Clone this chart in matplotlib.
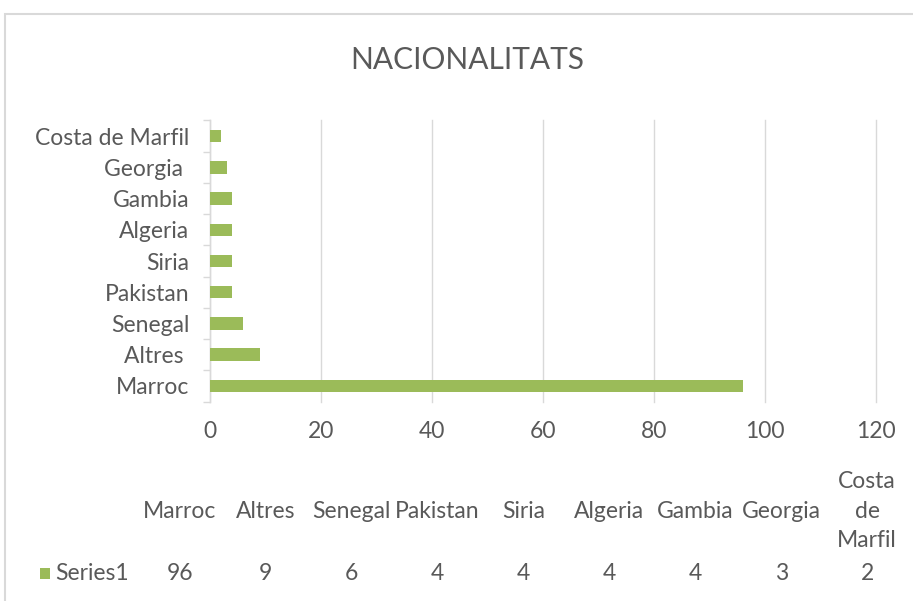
import textwrap
import matplotlib
matplotlib.use('Agg')
import matplotlib.pyplot as plt
from matplotlib.patches import Rectangle

# Datos
paisos = ['Marroc', 'Altres ', 'Senegal', 'Pakistan', 'Siria', 'Algeria', 'Gambia', 'Georgia ', 'Costa de Marfil']
valors = [96, 9, 6, 4, 4, 4, 4, 3, 2]
serie = 'Series1'
titol = 'NACIONALITATS'
xticks = [0, 20, 40, 60, 80, 100, 120]

verd = '#9bbb59'
gris = '#595959'
graella = '#d9d9d9'

plt.rcParams['font.family'] = ['Lato', 'DejaVu Sans']

W, H = 913, 601
fig = plt.figure(figsize=(W / 100, H / 100), dpi=100)

# marc del gràfic
fig.patches.append(Rectangle((5 / W, -0.1), 1.2, 1 - 13.5 / H + 0.1, transform=fig.transFigure,
                             fill=False, edgecolor='#d9d9d9', linewidth=1.5))

ax = fig.add_axes([210 / W, 1 - 401.6 / H, 666 / W, 281.2 / H])
y = range(len(paisos))
ax.barh(y, valors, height=0.4, color=verd, zorder=3)
ax.set_ylim(-0.5, len(paisos) - 0.5)
ax.set_xlim(0, 120)
ax.set_xticks(xticks)
ax.set_yticks(list(y))
ax.set_yticklabels(paisos)
ax.set_yticks([i - 0.5 for i in range(len(paisos) + 1)], minor=True)

ax.grid(axis='x', color=graella, linewidth=1, zorder=0)
for g in ax.get_xgridlines():
    g.set_clip_on(False)
for s in ['top', 'right', 'bottom']:
    ax.spines[s].set_visible(False)
ax.spines['left'].set_color(graella)
ax.spines['left'].set_linewidth(1)

mida = 16.5
ax.tick_params(axis='y', which='major', length=0, pad=15, labelsize=mida, labelcolor=gris)
ax.tick_params(axis='y', which='minor', length=5, color=graella, width=1)
ax.tick_params(axis='x', length=0, pad=14, labelsize=mida, labelcolor=gris)

fig.text(467 / W, 1 - 60 / H, titol, ha='center', va='center', fontsize=21.5, color=gris)

# taula de dades
x0 = 137 / W
amp = 85.9 / W
for i, (p, v) in enumerate(zip(paisos, valors)):
    xc = x0 + amp * (i + 0.5)
    etiqueta = '\n'.join(textwrap.wrap(p.strip(), width=7, break_long_words=False))
    fig.text(xc, 1 - 511 / H, etiqueta, ha='center', va='center', fontsize=mida,
             color=gris, linespacing=1.5)
    fig.text(xc, 1 - 573 / H, str(v), ha='center', va='center', fontsize=mida, color=gris)

fig.patches.append(Rectangle((40 / W, 1 - 579 / H), 10 / W, 11 / H, transform=fig.transFigure,
                             facecolor=verd, edgecolor='none'))
fig.text(55 / W, 1 - 573 / H, serie, ha='left', va='center', fontsize=mida, color=gris)

fig.savefig('out.png', dpi=100)
